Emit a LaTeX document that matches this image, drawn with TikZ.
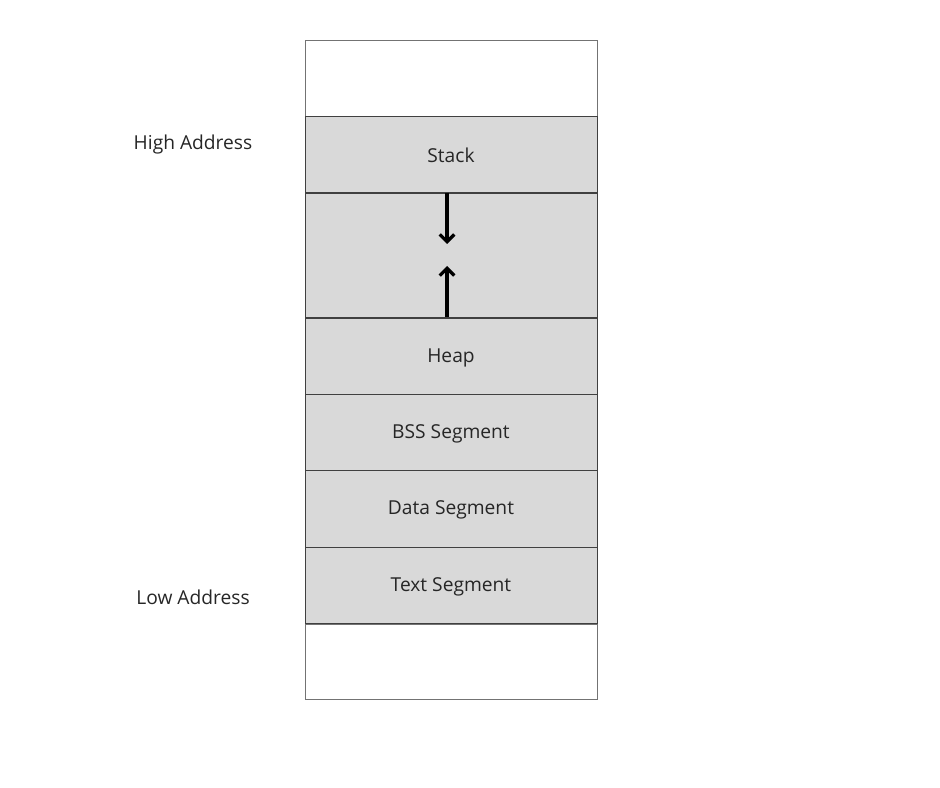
\documentclass[tikz,border=0pt]{standalone}
\usepackage{fontspec}
\setmainfont{Open Sans}
\usetikzlibrary{arrows.meta}
\begin{document}
\begin{tikzpicture}[x=0.75pt,y=-0.75pt,
  seg/.style={draw=black!75,fill=black!15,line width=0.7pt},
  blank/.style={draw=black!55,fill=white,line width=0.6pt},
  lbl/.style={font=\fontsize{14.4}{17}\selectfont,text=black!85},
  growarrow/.style={line width=2.6pt,-{Straight Barb[length=5.5pt,width=11pt,line width=2.4pt]}}]
\useasboundingbox (0,0) rectangle (940,788);
\draw[blank] (305,40) rectangle (597,116);
\draw[seg] (305,116) rectangle (597,192);
\draw[seg] (305,193) rectangle (597,317);
\draw[seg] (305,318) rectangle (597,394);
\draw[seg] (305,394) rectangle (597,470);
\draw[seg] (305,470) rectangle (597,547);
\draw[seg] (305,547) rectangle (597,623);
\draw[blank] (305,624) rectangle (597,699);
\node[lbl] (stack) at (451,155) {Stack};
\node[lbl] (heap) at (451,358) {Heap};
\node[lbl] (bss) at (451,434) {BSS Segment};
\node[lbl] (data) at (451,510) {Data Segment};
\node[lbl] (text) at (451,587) {Text Segment};
\node[lbl] (high) at (193,145) {High Address};
\node[lbl] (low) at (193,597) {Low Address};
\coordinate (s0) at (447,193);
\coordinate (s1) at (447,244);
\coordinate (h0) at (447,317);
\coordinate (h1) at (447,266);
\draw[growarrow] (s0) -- (s1);
\draw[growarrow] (h0) -- (h1);
\end{tikzpicture}
\end{document}
